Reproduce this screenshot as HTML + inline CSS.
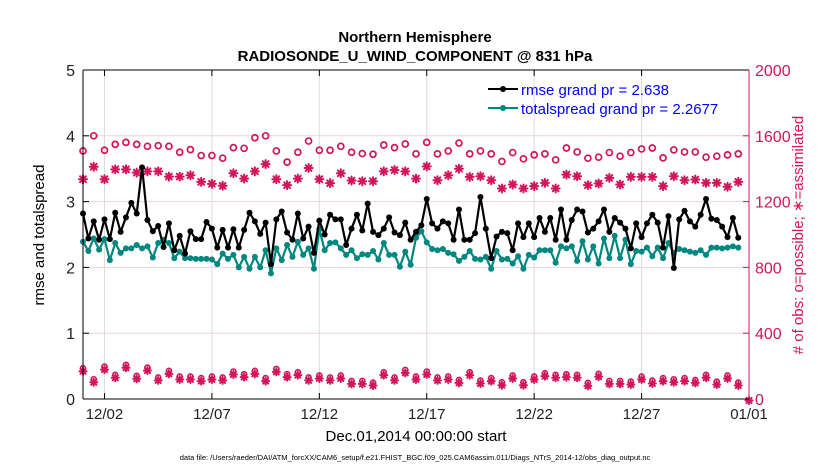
<!DOCTYPE html>
<html><head><meta charset="utf-8"><style>
html,body{margin:0;padding:0;background:#fff;}
svg{display:block;font-family:"Liberation Sans",Arial,sans-serif;}
</style></head><body>
<svg id="chart" width="830" height="470" viewBox="0 0 830 470" xmlns="http://www.w3.org/2000/svg">
<g id="grid"></g>
<g id="series"></g>
<g id="axes"></g>
<text x="415" y="42" text-anchor="middle" font-size="15" font-weight="bold">Northern Hemisphere</text>
<text x="415" y="61" text-anchor="middle" font-size="15" font-weight="bold">RADIOSONDE_U_WIND_COMPONENT @ 831 hPa</text>
<text transform="translate(44,235) rotate(-90)" text-anchor="middle" font-size="15">rmse and totalspread</text>
<text transform="translate(803,235) rotate(-90)" text-anchor="middle" font-size="15" fill="#d4145a"># of obs: o=possible; ∗=assimilated</text>
<text x="416" y="441" text-anchor="middle" font-size="15">Dec.01,2014 00:00:00 start</text>
<text x="415" y="460" text-anchor="middle" font-size="7.5">data file: /Users/raeder/DAI/ATM_forcXX/CAM6_setup/f.e21.FHIST_BGC.f09_025.CAM6assim.011/Diags_NTrS_2014-12/obs_diag_output.nc</text>
<g>
<line x1="488" y1="89" x2="518" y2="89" stroke="#000" stroke-width="2"/>
<circle cx="503" cy="89" r="3" fill="#000"/>
<text x="521" y="95" font-size="15" fill="#0000ff">rmse grand pr = 2.638</text>
<line x1="488" y1="108" x2="518" y2="108" stroke="#00877f" stroke-width="2"/>
<circle cx="503" cy="108" r="3" fill="#00877f"/>
<text x="521" y="114" font-size="15" fill="#0000ff">totalspread grand pr = 2.2677</text>
</g>
</svg>
<script>
const rmse=[2.82,2.44,2.70,2.42,2.73,2.43,2.83,2.54,2.76,2.98,2.82,3.52,2.72,2.55,2.63,2.31,2.67,2.26,2.48,2.21,2.55,2.43,2.43,2.69,2.59,2.30,2.57,2.30,2.58,2.30,2.57,2.83,2.70,2.51,2.68,2.05,2.73,2.85,2.53,2.42,2.82,2.44,2.62,2.22,2.71,2.50,2.80,2.73,2.73,2.34,2.59,2.80,2.56,2.97,2.54,2.49,2.59,2.76,2.53,2.49,2.68,2.42,2.54,2.64,3.04,2.67,2.59,2.70,2.67,2.42,2.88,2.42,2.42,2.52,3.07,2.59,2.14,2.47,2.54,2.52,2.26,2.67,2.46,2.67,2.46,2.75,2.54,2.75,2.42,2.88,2.42,2.72,2.88,2.85,2.53,2.59,2.70,2.88,2.54,2.75,2.68,2.59,2.29,2.67,2.46,2.67,2.80,2.68,2.30,2.78,1.99,2.73,2.86,2.70,2.62,2.80,3.04,2.74,2.72,2.62,2.46,2.75,2.45];
const spread=[2.39,2.25,2.44,2.27,2.43,2.11,2.37,2.22,2.29,2.29,2.34,2.29,2.32,2.15,2.37,2.42,2.37,2.14,2.24,2.14,2.14,2.13,2.13,2.13,2.12,2.05,2.21,2.13,2.19,2.00,2.16,1.98,2.16,2.00,2.26,1.91,2.29,2.11,2.34,2.16,2.39,2.19,2.29,1.98,2.58,2.26,2.37,2.38,2.29,2.19,2.26,2.14,2.20,2.19,2.25,2.12,2.37,2.19,2.19,2.01,2.24,2.04,2.45,2.55,2.38,2.28,2.26,2.28,2.22,2.20,2.10,2.16,2.25,2.13,2.12,2.16,1.98,2.25,2.12,2.13,2.06,2.17,1.98,2.19,2.15,2.26,2.26,2.26,2.07,2.32,2.29,2.32,2.10,2.40,2.12,2.32,2.06,2.44,2.14,2.48,2.14,2.42,2.05,2.25,2.24,2.30,2.17,2.30,2.14,2.37,2.22,2.28,2.26,2.24,2.22,2.26,2.19,2.30,2.30,2.29,2.30,2.32,2.30];
const obsPossible=[1508,1600,1512,1548,1560,1548,1536,1540,1536,1500,1516,1480,1480,1464,1528,1524,1588,1600,1508,1440,1500,1568,1512,1512,1536,1500,1492,1488,1544,1528,1550,1490,1560,1490,1508,1556,1490,1508,1490,1444,1498,1460,1484,1490,1454,1526,1502,1464,1470,1498,1476,1498,1520,1526,1466,1514,1502,1502,1470,1476,1484,1490];
const obsAssim=[1336,1412,1336,1396,1396,1376,1384,1384,1352,1352,1360,1320,1308,1296,1372,1340,1384,1428,1336,1300,1340,1404,1336,1312,1372,1328,1324,1324,1384,1392,1384,1340,1414,1330,1360,1400,1350,1354,1330,1280,1304,1280,1294,1314,1280,1364,1354,1300,1310,1344,1304,1350,1350,1350,1294,1354,1330,1334,1314,1314,1290,1320];
const obsOther=[178,111,188,138,199,132,182,122,162,128,128,118,128,122,158,142,162,118,174,142,154,122,134,122,134,101,101,91,154,122,168,128,158,122,128,107,154,103,118,93,134,93,128,148,138,142,138,89,144,101,101,97,128,103,118,111,118,107,138,97,134,91,0];
const xTickDays=[1,6,11,16,21,26,31];
const xTickLabels=["12/02","12/07","12/12","12/17","12/22","12/27","01/01"];
const yTicksLeft=[0,1,2,3,4,5];
const yTicksRight=[0,400,800,1200,1600,2000];

const NS="http://www.w3.org/2000/svg";
const X0=83,X1=749,Y0=399,Y1=70;
const RED="#d4145a",TEAL="#00877f";
function xs(d){return X0+(d/31)*(X1-X0);}
function yl(v){return Y0-(v/5)*(Y0-Y1);}
function yr(v){return Y0-(v/2000)*(Y0-Y1);}
function mk(tag,attrs,parent){const e=document.createElementNS(NS,tag);for(const k in attrs)e.setAttribute(k,attrs[k]);parent.appendChild(e);return e;}
const grid=document.getElementById('grid'),ser=document.getElementById('series'),axes=document.getElementById('axes');

xTickDays.forEach((d,i)=>{
  const g=mk('line',{x1:xs(d),x2:xs(d),y1:Y1,y2:Y0,stroke:'#dcdcdc','stroke-width':1},grid);
  
  
  const t=mk('line',{x1:xs(d),x2:xs(d),y1:Y0,y2:Y0-6,stroke:'#000'},axes);
  
  
  const t2=mk('line',{x1:xs(d),x2:xs(d),y1:Y1,y2:Y1+6,stroke:'#000'},axes);
  
  
  const l=mk('text',{x:xs(d),y:Y0+20,'text-anchor':'middle','font-size':15,fill:'#222'},axes);
  l.textContent=xTickLabels[i];
  
  
});
yTicksLeft.forEach(v=>{
  if(v>0&&v<5){const g=mk('line',{x1:X0,x2:X1,y1:yl(v),y2:yl(v),stroke:'#efd3de','stroke-width':1},grid);
  
  }
  const t=mk('line',{x1:X0,x2:X0+6,y1:yl(v),y2:yl(v),stroke:'#000'},axes);
  
  
  const l=mk('text',{x:X0-8,y:yl(v)+6,'text-anchor':'end','font-size':16,fill:'#222'},axes);
  l.textContent=v;
  
  
});
yTicksRight.forEach(v=>{
  const t=mk('line',{x1:X1,x2:X1-6,y1:yr(v),y2:yr(v),stroke:RED},axes);
  
  
  const l=mk('text',{x:X1+6,y:yr(v)+6,'text-anchor':'start','font-size':16,fill:RED},axes);
  l.textContent=v;
  
  
});
const fr=[[X0,Y1,X1,Y1,'#000'],[X0,Y0,X1,Y0,'#000'],[X0,Y1,X0,Y0,'#000'],[X1,Y1,X1,Y0,RED]];
fr.forEach(f=>{const a=mk('line',{x1:f[0],y1:f[1],x2:f[2],y2:f[3],stroke:f[4],'stroke-width':1},axes);
  
  });

function star(cx,cy,parent,r){
  const g=mk('g',{stroke:RED,'stroke-width':2,'stroke-linecap':'round'},parent);
  
  
  const d=r*0.72;
  mk('line',{x1:cx-r,y1:cy,x2:cx+r,y2:cy},g);
  mk('line',{x1:cx,y1:cy-r,x2:cx,y2:cy+r},g);
  mk('line',{x1:cx-d,y1:cy-d,x2:cx+d,y2:cy+d},g);
  mk('line',{x1:cx-d,y1:cy+d,x2:cx+d,y2:cy-d},g);
}
obsPossible.forEach((v,i)=>{
  const c=mk('circle',{cx:xs(i*0.5),cy:yr(v),r:3,fill:'none',stroke:RED,'stroke-width':1.7},ser);
  
  
});
obsAssim.forEach((v,i)=>star(xs(i*0.5),yr(v),ser,4));
obsOther.forEach((v,i)=>{
  star(xs(i*0.5),yr(v)+1.5,ser,3.5);
  if(v>0){const c=mk('circle',{cx:xs(i*0.5),cy:yr(v)-1.5,r:2.5,fill:'none',stroke:RED,'stroke-width':1.6},ser);
  
  }
});
function line(arr,color,name){
  const pts=arr.map((v,i)=>xs(i*0.25)+','+yl(v)).join(' ');
  const p=mk('polyline',{points:pts,fill:'none',stroke:color,'stroke-width':2.2,'stroke-linejoin':'round'},ser);
  
  
  arr.forEach((v,i)=>{
    const c=mk('circle',{cx:xs(i*0.25),cy:yl(v),r:3,fill:color},ser);
    
    
  });
}
line(spread,TEAL,'totalspread');
line(rmse,'#000','rmse');
</script>
</body></html>
